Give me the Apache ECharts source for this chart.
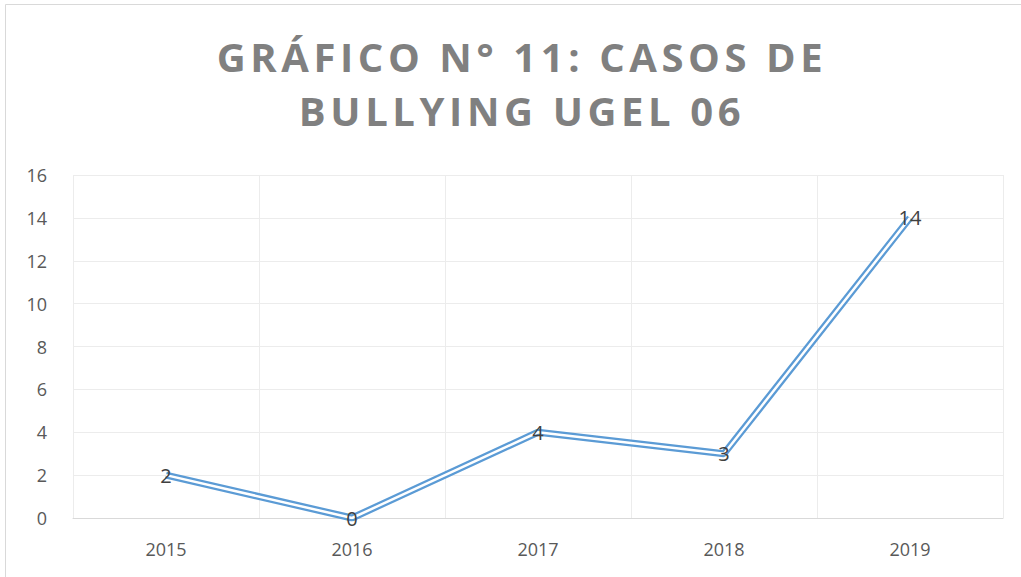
<!DOCTYPE html>
<html>
<head>
<meta charset="utf-8">
<script src="https://cdn.jsdelivr.net/npm/echarts@6/dist/echarts.min.js"></script>
<style>
  html, body { margin: 0; padding: 0; background: #fff; }
  #main { width: 1021px; height: 577px; }
  /* title in the original has wide letter spacing */
  #main text[style*="40px"] { letter-spacing: 4.6px; }
</style>
</head>
<body>
<div id="main"></div>
<script>
var years = ['2015', '2016', '2017', '2018', '2019'];
var casos = [2, 0, 4, 3, 14];
var yTicks = [0, 16, 2]; // min, max, interval

var chart = echarts.init(document.getElementById('main'), null, { renderer: 'svg' });

var option = {
  backgroundColor: '#fff',
  title: {
    text: 'GRÁFICO N° 11: CASOS DE\nBULLYING UGEL 06',
    left: 522,
    textAlign: 'center',
    top: 29,
    padding: 0,
    textStyle: {
      fontFamily: 'Open Sans',
      fontWeight: 'bold',
      fontSize: 40,
      lineHeight: 54,
      color: '#808080'
    }
  },
  graphic: [{
    type: 'rect',
    shape: { x: 5.5, y: 4.5, width: 1100, height: 700 },
    style: { fill: 'none', stroke: '#d9d9d9', lineWidth: 1 },
    silent: true
  }],
  grid: { left: 73, right: 18, top: 175, bottom: 59 },
  xAxis: {
    type: 'category',
    data: years,
    boundaryGap: true,
    axisLine: { lineStyle: { color: '#d9d9d9' } },
    axisTick: { show: false },
    splitLine: { show: true, lineStyle: { color: '#ececec' } },
    axisLabel: { color: '#595959', fontSize: 18, fontFamily: 'Open Sans', margin: 22 }
  },
  yAxis: {
    type: 'value',
    min: yTicks[0],
    max: yTicks[1],
    interval: yTicks[2],
    axisLine: { show: false },
    axisTick: { show: false },
    splitLine: { lineStyle: { color: '#ececec' } },
    axisLabel: { color: '#595959', fontSize: 18, fontFamily: 'Open Sans', margin: 26 }
  },
  series: [{
    type: 'line',
    data: casos,
    symbol: 'none',
    lineStyle: { color: '#5b9bd5', width: 7 },
    z: 2,
    silent: true
  }, {
    type: 'line',
    data: casos,
    symbol: 'circle',
    symbolSize: 0,
    lineStyle: { color: '#fff', width: 2.5 },
    label: {
      show: true,
      position: 'inside',
      color: '#404040',
      fontSize: 20,
      fontFamily: 'Open Sans'
    },
    z: 3,
    silent: true
  }]
};

chart.setOption(option);
</script>
</body>
</html>
